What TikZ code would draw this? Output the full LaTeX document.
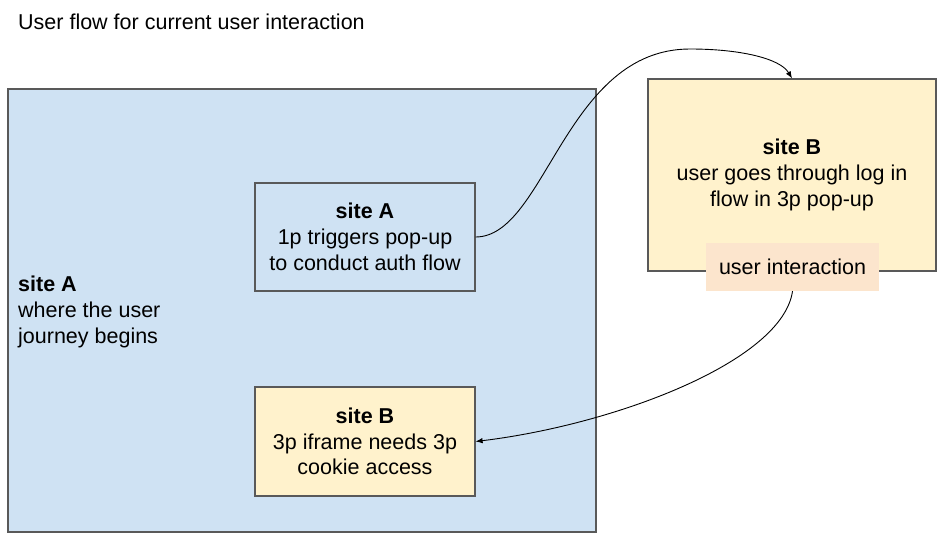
\documentclass[tikz,border=0pt]{standalone}
\usepackage{fontspec}
\setmainfont{Liberation Sans}
\usetikzlibrary{arrows.meta}

\definecolor{siteblue}{HTML}{CFE2F3}
\definecolor{siteyellow}{HTML}{FFF2CC}
\definecolor{sitepeach}{HTML}{FCE5CD}
\definecolor{edgegray}{HTML}{595959}

\tikzset{
	txt/.style={font=\fontsize{21.5}{25.8}\selectfont, inner sep=0pt},
	box/.style={txt, draw=edgegray, line width=1.2pt, align=center},
	flow/.style={-{Latex[length=7pt,width=5.5pt]}, line width=0.9pt},
}

\begin{document}
\begin{tikzpicture}[x=1pt,y=-1pt]
	\useasboundingbox (0,0) rectangle (949,545);

	\node[txt, anchor=west] (title) at (18,22) {User flow for current user interaction};

	% site A, the page the user starts on
	\node[box, fill=siteblue, minimum width=588pt, minimum height=443pt] (journey) at (302,310.5) {};
	\node[txt, anchor=west, align=left] (journeytext) at (18,312) {\textbf{site A}\\where the user\\journey begins};

	\node[box, fill=siteblue, minimum width=220pt, minimum height=108pt] (trigger) at (365,237)
		{\textbf{site A}\\1p triggers pop-up\\to conduct auth flow};
	\node[box, fill=siteyellow, minimum width=220pt, minimum height=109pt] (iframe) at (365,441.5)
		{\textbf{site B}\\3p iframe needs 3p\\cookie access};

	% site B, the pop-up
	\node[box, fill=siteyellow, minimum width=288pt, minimum height=192pt] (popup) at (792,175)
		{\textbf{site B}\\user goes through log in\\flow in 3p pop-up};
	\node[txt, fill=sitepeach, minimum width=173pt, minimum height=48pt] (interact) at (792.5,267) {user interaction};

	\coordinate (peak) at (690,49);
	\draw[flow] (trigger.east) .. controls +(70,0) and +(-125,0) .. (peak)
		.. controls +(50,0) and +(-12,-20) .. (popup.north);
	\draw[flow] (interact.south) .. controls +(-10,70) and +(140,-17) .. (iframe.east);
\end{tikzpicture}
\end{document}
